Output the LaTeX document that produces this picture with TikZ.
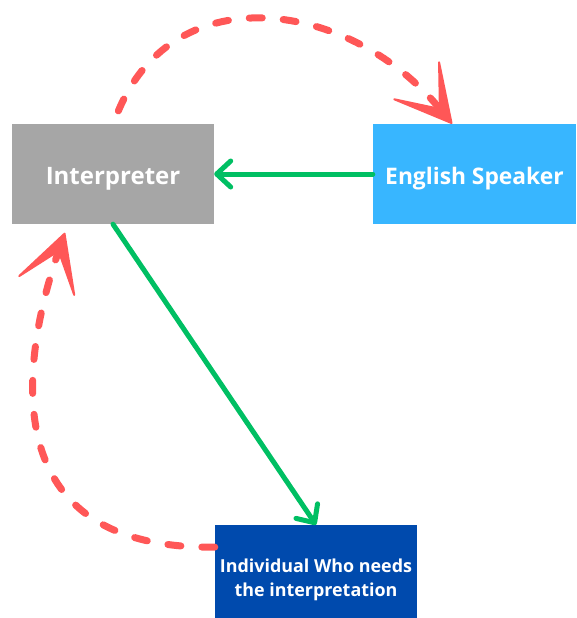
\documentclass[tikz,border=0pt]{standalone}
\usepackage{fontspec}
\setmainfont{Open Sans}
\usetikzlibrary{arrows.meta}
\definecolor{boxgray}{HTML}{A6A6A6}
\definecolor{skyblue}{HTML}{38B6FF}
\definecolor{deepblue}{HTML}{004AAD}
\definecolor{flowgreen}{HTML}{00BF63}
\definecolor{loopred}{HTML}{FF5757}
\tikzset{
    party/.style={rectangle, inner sep=0pt, text=white, align=center, font=\bfseries},
    talk/.style={draw=flowgreen, line width=5pt, line cap=round, -{Straight Barb[round, length=14pt, width=26pt]}},
    relay/.style={draw=loopred, line width=7pt, line cap=round, dash pattern=on 13pt off 21pt,
        -{Stealth[length=66pt, width=70pt, inset=44pt, line width=2pt, round]}}
}

\begin{document}
\begin{tikzpicture}[x=1pt, y=-1pt]
    \useasboundingbox (0,0) rectangle (576,618);

    \node[party, fill=boxgray, minimum width=202pt, minimum height=100pt, text height=21pt, text depth=0pt, font=\bfseries\fontsize{24}{28}\selectfont] (interp) at (113,174) {Interpreter};
    \node[party, fill=skyblue, minimum width=203pt, minimum height=100pt, text height=20pt, text depth=0pt, font=\bfseries\fontsize{22.8}{26}\selectfont] (english) at (474.5,174) {English Speaker};
    \node[party, fill=deepblue, minimum width=202pt, minimum height=110pt, font=\bfseries\fontsize{17.9}{24}\selectfont] (indiv) at (316,580) {Individual Who needs\\the interpretation};

    \draw[talk] (english.west) -- (interp.east);
    \draw[talk] (interp.south) -- (indiv.north);

    \draw[relay, shorten <=14pt] (interp.north) .. controls (175,-25) and (350,0) .. (english.114);
    \draw[relay, shorten >=9pt] (indiv.162) .. controls (-20,550) and (28,340) .. (interp.228);
\end{tikzpicture}
\end{document}
